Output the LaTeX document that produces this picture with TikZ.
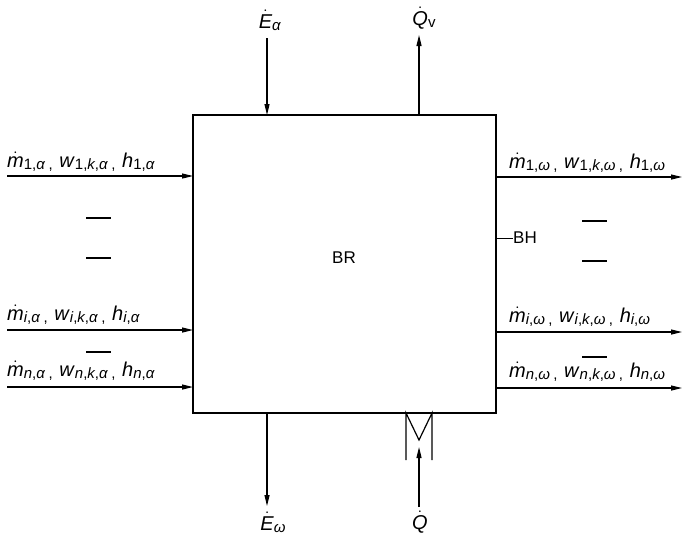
\documentclass[tikz,border=0pt]{standalone}
\usepackage{fontspec}
\setmainfont{Liberation Sans}
\usetikzlibrary{arrows.meta}
\newcommand{\dt}[1]{$\dot{\mbox{\itshape #1}}$}
\newcommand{\sbs}[1]{\raisebox{-2pt}{\fontsize{15}{15}\selectfont #1}}
\newcommand{\flow}[2]{\dt{m}\sbs{#1,\textit{#2}}\,\sbs{,}\,\,\textit{w}\sbs{#1,\textit{k},\textit{#2}}\,\sbs{,}\,\,\textit{h}\sbs{#1,\textit{#2}}}
\begin{document}
\begin{tikzpicture}[x=1pt,y=-1pt,
  box/.style={draw,line width=1.4pt},
  arr/.style={line width=1.2pt,-{Triangle[length=11pt,width=5pt]}},
  lbl/.style={font=\fontsize{20}{22}\selectfont,inner sep=0pt},
  txt/.style={font=\fontsize{17}{19}\selectfont,inner sep=0pt},
  tick/.style={line width=1.1pt}]
\useasboundingbox (0,0) rectangle (682,541);
% box
\coordinate (tl) at (193,115);
\coordinate (br) at (496,413);
\draw[box] (tl) rectangle (br);
\node[txt] (BR) at (344,258) {BR};
% left inflows
\coordinate (l1s) at (7,176);   \coordinate (l1e) at (193,176);
\coordinate (lis) at (7,330);   \coordinate (lie) at (193,330);
\coordinate (lns) at (7,387);   \coordinate (lne) at (193,387);
\draw[arr] (l1s) -- (l1e);
\draw[arr] (lis) -- (lie);
\draw[arr] (lns) -- (lne);
\node[lbl,anchor=base west] (L1) at (7,167) {\flow{1}{α}};
\node[lbl,anchor=base west] (Li) at (7,320) {\flow{\textit{i}}{α}};
\node[lbl,anchor=base west] (Ln) at (7,376) {\flow{\textit{n}}{α}};
% right outflows
\coordinate (r1s) at (496,177); \coordinate (r1e) at (682,177);
\coordinate (ris) at (496,332); \coordinate (rie) at (682,332);
\coordinate (rns) at (496,388); \coordinate (rne) at (682,388);
\draw[arr] (r1s) -- (r1e);
\draw[arr] (ris) -- (rie);
\draw[arr] (rns) -- (rne);
\node[lbl,anchor=base west] (R1) at (509,168) {\flow{1}{ω}};
\node[lbl,anchor=base west] (Ri) at (509,322) {\flow{\textit{i}}{ω}};
\node[lbl,anchor=base west] (Rn) at (509,377) {\flow{\textit{n}}{ω}};
% ellipsis dashes
\foreach \y in {218,258,352} \draw[tick] (86,\y) -- (111,\y);
\foreach \y in {221,261,357} \draw[tick] (582,\y) -- (607,\y);
% BH
\node[txt,anchor=west] (BH) at (513,238) {BH};
\draw[line width=1pt] (496,238) -- (BH.west);
% top
\coordinate (ea1) at (267,38); \coordinate (ea2) at (267,115);
\draw[arr] (ea1) -- (ea2);
\node[lbl] (Ea) at (270,20) {\dt{E}\sbs{\textit{α}}};
\coordinate (qv1) at (419,115); \coordinate (qv2) at (419,35);
\draw[arr] (qv1) -- (qv2);
\node[lbl] (Qv) at (424,18) {\dt{Q}\sbs{v}};
% bottom
\coordinate (eo1) at (267,413); \coordinate (eo2) at (267,506);
\draw[arr] (eo1) -- (eo2);
\node[lbl] (Eo) at (273,522) {\dt{E}\sbs{\textit{ω}}};
\coordinate (q1) at (419,507); \coordinate (q2) at (419,447);
\draw[arr] (q1) -- (q2);
\node[lbl] (Q) at (420,522) {\dt{Q}};
% heater symbol
\draw[line width=1.2pt] (406,460) -- (406,413) -- (419,440) -- (432,413) -- (432,460);
\end{tikzpicture}
\end{document}
